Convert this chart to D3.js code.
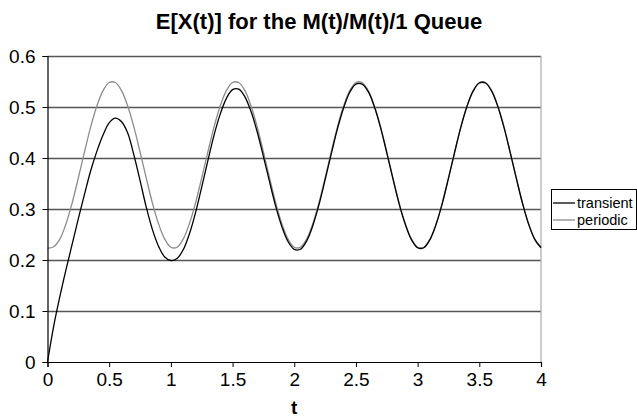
<!DOCTYPE html>
<html>
<head>
<meta charset="utf-8">
<script src="https://cdn.jsdelivr.net/npm/d3@7"></script>
<style>
  html, body { margin: 0; padding: 0; background: #fff; }
  svg { display: block; font-family: "Liberation Sans", Arial, sans-serif; }
</style>
</head>
<body>
<svg id="chart" width="637" height="419"></svg>
<script>
const title = "E[X(t)] for the M(t)/M(t)/1 Queue";
const xTitle = "t";
const seriesNames = ["transient", "periodic"];
const xTicks = [0, 0.5, 1, 1.5, 2, 2.5, 3, 3.5, 4];
const yTicks = [0, 0.1, 0.2, 0.3, 0.4, 0.5, 0.6];

const tValues = [
  0.00, 0.05, 0.10, 0.15, 0.20, 0.25, 0.30, 0.35, 0.40, 0.45,
  0.50, 0.55, 0.60, 0.65, 0.70, 0.75, 0.80, 0.85, 0.90, 0.95,
  1.00, 1.05, 1.10, 1.15, 1.20, 1.25, 1.30, 1.35, 1.40, 1.45,
  1.50, 1.55, 1.60, 1.65, 1.70, 1.75, 1.80, 1.85, 1.90, 1.95,
  2.00, 2.05, 2.10, 2.15, 2.20, 2.25, 2.30, 2.35, 2.40, 2.45,
  2.50, 2.55, 2.60, 2.65, 2.70, 2.75, 2.80, 2.85, 2.90, 2.95,
  3.00, 3.05, 3.10, 3.15, 3.20, 3.25, 3.30, 3.35, 3.40, 3.45,
  3.50, 3.55, 3.60, 3.65, 3.70, 3.75, 3.80, 3.85, 3.90, 3.95,
  4.00
];

const transient = [
  0.000, 0.070, 0.128, 0.181, 0.231, 0.281, 0.329, 0.375, 0.413, 0.445,
  0.469, 0.478, 0.471, 0.449, 0.406, 0.356, 0.304, 0.260, 0.227, 0.206,
  0.199, 0.203, 0.220, 0.251, 0.293, 0.343, 0.395, 0.445, 0.486, 0.517,
  0.534, 0.535, 0.520, 0.491, 0.451, 0.403, 0.353, 0.305, 0.265, 0.236,
  0.221, 0.221, 0.237, 0.267, 0.308, 0.357, 0.408, 0.457, 0.498, 0.529,
  0.545, 0.545, 0.530, 0.500, 0.459, 0.410, 0.359, 0.310, 0.270, 0.240,
  0.224, 0.224, 0.240, 0.270, 0.311, 0.360, 0.411, 0.460, 0.501, 0.531,
  0.547, 0.547, 0.531, 0.501, 0.460, 0.411, 0.360, 0.311, 0.270, 0.240,
  0.224
];

const periodic = [
  0.223, 0.226, 0.241, 0.271, 0.312, 0.361, 0.412, 0.461, 0.502, 0.532,
  0.548, 0.548, 0.532, 0.502, 0.461, 0.412, 0.361, 0.312, 0.271, 0.241,
  0.225, 0.225, 0.241, 0.271, 0.312, 0.361, 0.412, 0.461, 0.502, 0.532,
  0.548, 0.548, 0.532, 0.502, 0.461, 0.412, 0.361, 0.312, 0.271, 0.241,
  0.225, 0.225, 0.241, 0.271, 0.312, 0.361, 0.412, 0.461, 0.502, 0.532,
  0.548, 0.548, 0.532, 0.502, 0.461, 0.412, 0.361, 0.312, 0.271, 0.241,
  0.225, 0.225, 0.241, 0.271, 0.312, 0.361, 0.412, 0.461, 0.502, 0.532,
  0.548, 0.548, 0.532, 0.502, 0.461, 0.412, 0.361, 0.312, 0.271, 0.241,
  0.225
];

const svg = d3.select("#chart");
const x = d3.scaleLinear().domain([0, 4]).range([47.5, 541]);
const y = d3.scaleLinear().domain([0, 0.6]).range([362, 56]);

// title
svg.append("text")
  .attr("x", 319).attr("y", 29)
  .attr("text-anchor", "middle")
  .attr("font-weight", "bold")
  .attr("font-size", 22)
  .text(title);

// gridlines
svg.append("g").selectAll("line")
  .data(yTicks.filter(d => d > 0))
  .join("line")
  .attr("x1", x(0)).attr("x2", x(4))
  .attr("y1", d => Math.round(y(d)) + 0.5).attr("y2", d => Math.round(y(d)) + 0.5)
  .attr("stroke", "#555").attr("stroke-width", 1.5);

// right border
svg.append("line")
  .attr("x1", x(4)).attr("x2", x(4))
  .attr("y1", y(0.6)).attr("y2", y(0))
  .attr("stroke", "#aaa").attr("stroke-width", 1.2);

// series
const line = d3.line()
  .x((d, i) => x(tValues[i]))
  .y(d => y(d))
  .curve(d3.curveCatmullRom);

svg.append("path").datum(periodic)
  .attr("d", line).attr("fill", "none")
  .attr("stroke", "#8c8c8c").attr("stroke-width", 1.3);
svg.append("path").datum(transient)
  .attr("d", line).attr("fill", "none")
  .attr("stroke", "#000").attr("stroke-width", 1.3);

// axes
const xAxis = d3.axisBottom(x).tickValues(xTicks).tickSize(5).tickPadding(6)
  .tickFormat(d => String(d));
const gx = svg.append("g").attr("transform", `translate(0,${y(0)})`).call(xAxis);
gx.select(".domain").attr("stroke", "#000").attr("stroke-width", 1.2);
gx.selectAll(".tick line").attr("stroke", "#000");
gx.selectAll("text").attr("font-size", 19).attr("fill", "#000")
  .attr("font-family", "Liberation Sans, Arial, sans-serif");

const yAxis = d3.axisLeft(y).tickValues(yTicks).tickSize(5).tickPadding(7)
  .tickFormat(d => String(d));
const gy = svg.append("g").attr("transform", `translate(${x(0)},0)`).call(yAxis);
gy.select(".domain").attr("stroke", "#000").attr("stroke-width", 1.2);
gy.selectAll(".tick line").attr("stroke", "#000");
gy.selectAll("text").attr("font-size", 19).attr("fill", "#000")
  .attr("font-family", "Liberation Sans, Arial, sans-serif");

// x title
svg.append("text")
  .attr("x", x(2)).attr("y", 414)
  .attr("text-anchor", "middle")
  .attr("font-weight", "bold")
  .attr("font-size", 19)
  .text(xTitle);

// legend
const lg = svg.append("g");
lg.append("rect")
  .attr("x", 551.5).attr("y", 189.5).attr("width", 85).attr("height", 40)
  .attr("fill", "#fff").attr("stroke", "#000").attr("stroke-width", 1);
const legendColors = ["#000", "#8c8c8c"];
seriesNames.forEach((name, i) => {
  const yy = 203 + i * 17;
  lg.append("line").attr("x1", 553).attr("x2", 575)
    .attr("y1", yy).attr("y2", yy)
    .attr("stroke", legendColors[i]).attr("stroke-width", 1.3);
  lg.append("text").attr("x", 577).attr("y", yy + 5)
    .attr("font-size", 14.5).text(name);
});
</script>
</body>
</html>
